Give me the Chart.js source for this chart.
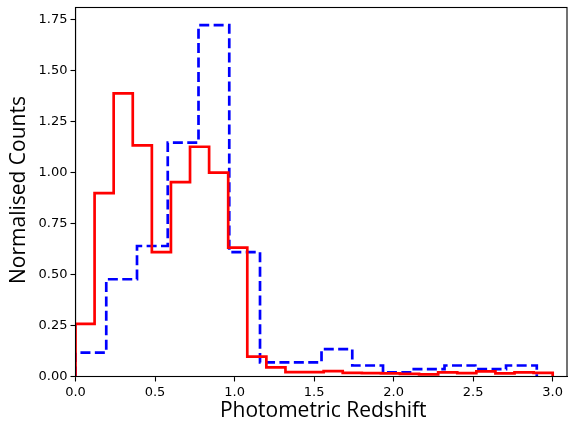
<!DOCTYPE html>
<html>
<head>
<meta charset="utf-8">
<script src="https://cdn.jsdelivr.net/npm/chart.js@4/dist/chart.umd.min.js"></script>
<style>
  html, body { margin: 0; padding: 0; background: #fff; }
  canvas { display: block; }
</style>
</head>
<body>
<canvas id="c" width="568" height="423"></canvas>
<script>
// Histogram ranges and bin counts
const redRange = [0, 3.0];
const redBins = 25;
const blueRange = [0, 2.9];
const blueBins = 15;

// Normalised counts per bin
const redCounts = [0.258, 0.899, 1.389, 1.134, 0.61, 0.953, 1.127, 1.0, 0.632, 0.097,
                   0.045, 0.021, 0.021, 0.026, 0.018, 0.017, 0.015, 0.013, 0.01, 0.02,
                   0.017, 0.025, 0.015, 0.02, 0.018];
const blueCounts = [0.117, 0.477, 0.64, 1.147, 1.724, 0.61, 0.069, 0.069, 0.134, 0.054,
                    0.02, 0.036, 0.054, 0.036, 0.054];

// Axis ticks and labels
const xTicks = [0, 0.5, 1.0, 1.5, 2.0, 2.5, 3.0];
const yTicks = [0, 0.25, 0.5, 0.75, 1.0, 1.25, 1.5, 1.75];
const xLabel = 'Photometric Redshift';
const yLabel = 'Normalised Counts';

// Build the outline of a step histogram: up from zero, across each bin, back down
function stepOutline(range, bins, counts) {
  const w = (range[1] - range[0]) / bins;
  const pts = [{x: range[0], y: 0}];
  counts.forEach((v, i) => pts.push({x: range[0] + i * w, y: v}));
  pts.push({x: range[1], y: 0});
  return pts;
}

const frame = {
  id: 'frame',
  afterDatasetsDraw(chart) {
    const {ctx, chartArea: a} = chart;
    ctx.save();
    ctx.strokeStyle = '#000';
    ctx.lineWidth = 1.1;
    ctx.strokeRect(a.left, a.top, a.right - a.left, a.bottom - a.top);
    ctx.restore();
  }
};

const axisTitles = {
  id: 'axisTitles',
  afterDraw(chart) {
    const {ctx, chartArea: a} = chart;
    ctx.save();
    ctx.fillStyle = '#000';
    ctx.font = '21px "Open Sans"';
    ctx.textAlign = 'center';
    ctx.textBaseline = 'alphabetic';
    ctx.fillText(xLabel, (a.left + a.right) / 2 + 2, 417);
    ctx.translate(25, (a.top + a.bottom) / 2 - 2);
    ctx.rotate(-Math.PI / 2);
    ctx.fillText(yLabel, 0, 0);
    ctx.restore();
  }
};

new Chart(document.getElementById('c'), {
  type: 'line',
  data: {
    datasets: [
      {
        data: stepOutline(redRange, redBins, redCounts),
        borderColor: '#ff0000',
        borderWidth: 2.7,
        stepped: 'before',
        pointRadius: 0,
        fill: false,
        clip: 0,
        order: 0
      },
      {
        data: stepOutline(blueRange, blueBins, blueCounts),
        borderColor: '#0000ff',
        borderWidth: 2.7,
        borderDash: [10, 4.4],
        stepped: 'before',
        pointRadius: 0,
        fill: false,
        clip: 0,
        order: 1
      }
    ]
  },
  options: {
    responsive: false,
    animation: false,
    layout: { padding: { top: 7.5, right: 1, left: 0, bottom: 0 } },
    plugins: { legend: { display: false }, tooltip: { enabled: false } },
    scales: {
      x: {
        type: 'linear',
        min: 0,
        max: 3.09,
        afterFit(s) { s.height = 46.5; s.paddingLeft = 0; s.paddingRight = 0; },
        afterBuildTicks(s) { s.ticks = xTicks.map(v => ({value: v})); },
        grid: { drawOnChartArea: false, drawTicks: true, tickLength: 5, color: '#000', tickWidth: 1.1 },
        border: { display: true, color: '#000', width: 1.1 },
        ticks: {
          autoSkip: false, maxRotation: 0, padding: 3, color: '#000',
          font: { family: 'DejaVu Sans', size: 13 },
          callback: v => Number(v).toFixed(1)
        }
      },
      y: {
        type: 'linear',
        min: 0,
        max: 1.81,
        afterFit(s) { s.width = 75.5; s.paddingTop = 0; s.paddingBottom = 0; },
        afterBuildTicks(s) { s.ticks = yTicks.map(v => ({value: v})); },
        grid: { drawOnChartArea: false, drawTicks: true, tickLength: 5, color: '#000', tickWidth: 1.1 },
        border: { display: true, color: '#000', width: 1.1 },
        ticks: {
          autoSkip: false, padding: 3, color: '#000',
          font: { family: 'DejaVu Sans', size: 13 },
          callback: v => Number(v).toFixed(2)
        }
      }
    }
  },
  plugins: [frame, axisTitles]
});
</script>
</body>
</html>
